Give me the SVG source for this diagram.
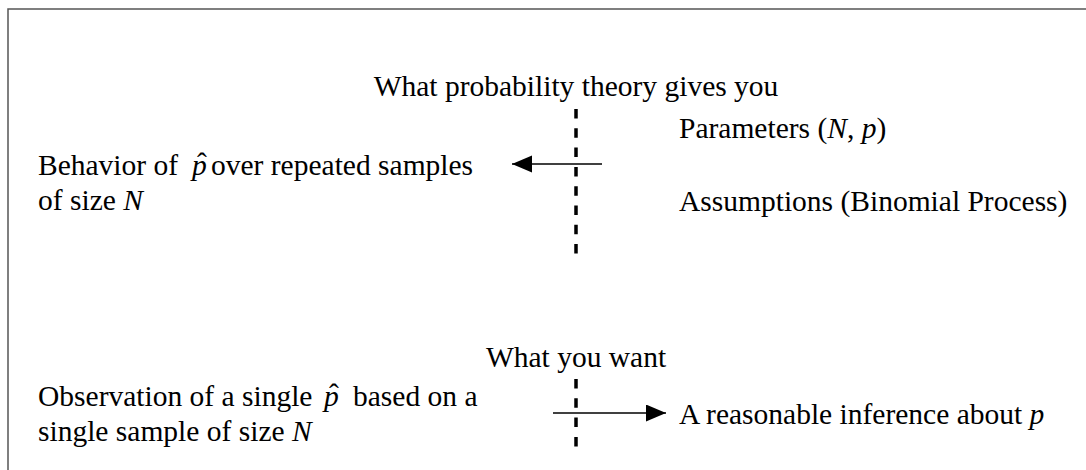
<svg xmlns="http://www.w3.org/2000/svg" width="1086" height="470" viewBox="0 0 1086 470">
  <style>
    text { font-family: "Liberation Serif", "Times New Roman", serif; font-size: 29.5px; fill: #000; }
    .i { font-style: italic; }
    .n { font-style: normal; }
    .mid { text-anchor: middle; }
    .frame { fill: none; stroke: #555; stroke-width: 1.5; }
    .dash { fill: none; stroke: #000; stroke-width: 3.5; stroke-dasharray: 9.5 9.8; }
    .arrow { fill: none; stroke: #000; stroke-width: 1.6; marker-end: url(#ah); }
  </style>
  <defs>
    <marker id="ah" markerUnits="userSpaceOnUse" markerWidth="22" markerHeight="18" refX="20" refY="8.5" orient="auto">
      <path d="M0,0 L20,8.5 L0,17 Z" fill="#000"/>
    </marker>
  </defs>
  <rect width="1086" height="470" fill="#fff"/>
  <path class="frame" d="M8,470 V9 H1086"/>

  <g id="title-top">
    <text class="mid" x="576" y="96">What probability theory gives you</text>
  </g>
  <g id="behavior">
    <text x="38" y="175">Behavior of</text>
    <text class="i" x="192" y="175">p<tspan class="n mid" x="202" dy="-2">ˆ</tspan></text>
    <text x="211" y="175">over repeated samples</text>
    <text x="38" y="210">of size <tspan class="i">N</tspan></text>
  </g>
  <g id="inputs">
    <text x="679" y="138">Parameters (<tspan class="i">N</tspan>, <tspan class="i">p</tspan>)</text>
    <text x="679" y="211">Assumptions (Binomial Process)</text>
  </g>
  <g id="title-bottom">
    <text class="mid" x="576" y="367">What you want</text>
  </g>
  <g id="observation">
    <text x="38" y="406">Observation of a single</text>
    <text class="i" x="324" y="406">p<tspan class="n mid" x="334" dy="-2">ˆ</tspan></text>
    <text x="353" y="406">based on a</text>
    <text x="38" y="441">single sample of size <tspan class="i">N</tspan></text>
  </g>
  <g id="inference">
    <text x="679" y="424">A reasonable inference about <tspan class="i">p</tspan></text>
  </g>
  <g id="connectors">
    <line class="dash" x1="576" y1="109" x2="576" y2="262"/>
    <line class="dash" x1="576" y1="379" x2="576" y2="447"/>
    <line class="arrow" x1="602" y1="164" x2="512" y2="164"/>
    <line class="arrow" x1="553" y1="413" x2="666" y2="413"/>
  </g>
</svg>
